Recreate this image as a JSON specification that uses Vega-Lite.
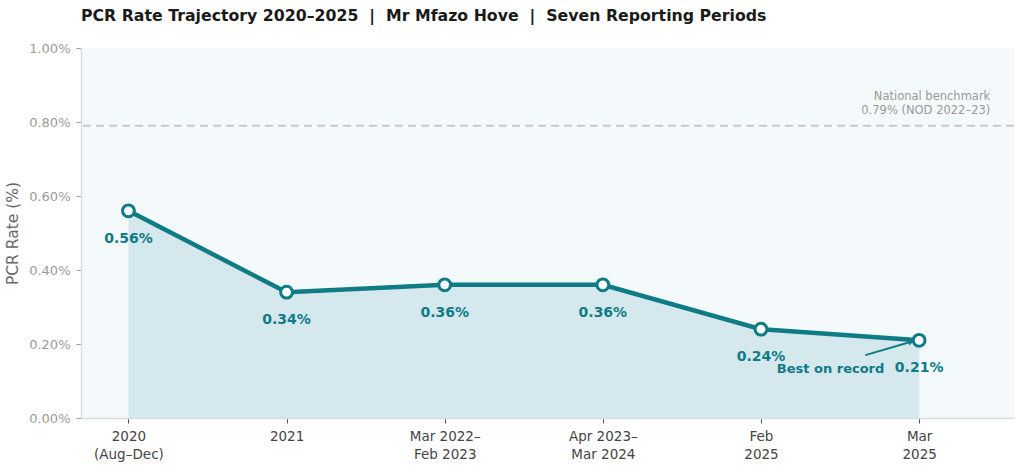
{
  "$schema": "https://vega.github.io/schema/vega-lite/v6.json",
  "autosize": "none",
  "width": 933,
  "height": 370,
  "padding": {"left": 81, "top": 48, "right": 10, "bottom": 56},
  "background": "white",
  "title": {
    "text": "PCR Rate Trajectory 2020–2025 \u00a0|\u00a0 Mr Mfazo Hove \u00a0|\u00a0 Seven Reporting Periods",
    "anchor": "start",
    "frame": "group",
    "offset": 17,
    "font": "DejaVu Sans",
    "fontSize": 15.75,
    "fontWeight": "bold",
    "color": "#1a1a1a"
  },
  "datasets": {
    "rates": [
      {"idx": 0, "period": "2020 (Aug–Dec)", "rate": 0.0056},
      {"idx": 1, "period": "2021", "rate": 0.0034},
      {"idx": 2, "period": "Mar 2022–Feb 2023", "rate": 0.0036},
      {"idx": 3, "period": "Apr 2023–Mar 2024", "rate": 0.0036},
      {"idx": 4, "period": "Feb 2025", "rate": 0.0024},
      {"idx": 5, "period": "Mar 2025", "rate": 0.0021}
    ],
    "benchmark": [
      {"rate": 0.0079, "idx": 5.45, "labelY": 0.00855, "note": ["National benchmark", "0.79% (NOD 2022–23)"]}
    ],
    "callout": [
      {"idx": 4.44, "rate": 0.00132, "idxFrom": 4.66, "rateFrom": 0.0017, "idxTo": 4.95, "rateTo": 0.00206, "note": "Best on record"}
    ]
  },
  "encoding": {
    "x": {
      "field": "idx",
      "type": "quantitative",
      "scale": {"domain": [-0.3, 5.6], "nice": false, "zero": false},
      "axis": {
        "title": null,
        "values": [0, 1, 2, 3, 4, 5],
        "grid": false,
        "labelExpr": "[['2020','(Aug–Dec)'],['2021'],['Mar 2022–','Feb 2023'],['Apr 2023–','Mar 2024'],['Feb','2025'],['Mar','2025']][datum.value]",
        "labelFont": "DejaVu Sans",
        "labelFontSize": 13.5,
        "labelColor": "#444444",
        "labelPadding": 6,
        "labelLineHeight": 18.5,
        "domainColor": "#d9dde0",
        "domainWidth": 1.5,
        "tickColor": "#555555",
        "tickSize": 5
      }
    }
  },
  "layer": [
    {
      "data": {"name": "benchmark"},
      "mark": {"type": "rule", "color": "#c9c9c9", "strokeWidth": 2, "strokeDash": [8, 5]},
      "encoding": {
        "x": null,
        "y": {"field": "rate", "type": "quantitative"}
      }
    },
    {
      "data": {"name": "benchmark"},
      "mark": {"type": "text", "align": "right", "baseline": "bottom", "font": "DejaVu Sans", "fontSize": 11.5, "color": "#9a9a9a", "lineHeight": 14},
      "encoding": {
        "y": {"field": "labelY", "type": "quantitative"},
        "text": {"field": "note"}
      }
    },
    {
      "data": {"name": "rates"},
      "mark": {"type": "area", "color": "#d5e8ed", "opacity": 1},
      "encoding": {
        "y": {
          "field": "rate",
          "type": "quantitative",
          "scale": {"domain": [0, 0.01], "nice": false},
          "axis": {
            "title": "PCR Rate (%)",
            "titleFont": "DejaVu Sans",
            "titleFontSize": 15.5,
            "titleFontWeight": "normal",
            "titleColor": "#666666",
            "titlePadding": 8,
            "values": [0, 0.002, 0.004, 0.006, 0.008, 0.01],
            "format": ".2%",
            "grid": false,
            "labelFont": "DejaVu Sans",
            "labelFontSize": 13,
            "labelColor": "#9a9a9a",
            "labelPadding": 6,
            "domainColor": "#d9dde0",
            "domainWidth": 1.5,
            "tickColor": "#9a9a9a",
            "tickSize": 5
          }
        }
      }
    },
    {
      "data": {"name": "rates"},
      "mark": {"type": "line", "color": "#0e7b85", "strokeWidth": 4.5},
      "encoding": {"y": {"field": "rate", "type": "quantitative"}}
    },
    {
      "data": {"name": "rates"},
      "mark": {"type": "point", "filled": true, "fill": "white", "stroke": "#0e7b85", "strokeWidth": 3, "size": 140, "opacity": 1},
      "encoding": {"y": {"field": "rate", "type": "quantitative"}}
    },
    {
      "data": {"name": "rates"},
      "mark": {"type": "text", "dy": 28, "font": "DejaVu Sans", "fontSize": 14, "fontWeight": "bold", "color": "#0e7b85"},
      "encoding": {
        "y": {"field": "rate", "type": "quantitative"},
        "text": {"field": "rate", "type": "quantitative", "format": ".2%"}
      }
    },
    {
      "data": {"name": "callout"},
      "mark": {"type": "rule", "color": "#0e7b85", "strokeWidth": 2},
      "encoding": {
        "x": {"field": "idxFrom", "type": "quantitative"},
        "x2": {"field": "idxTo"},
        "y": {"field": "rateFrom", "type": "quantitative"},
        "y2": {"field": "rateTo"}
      }
    },
    {
      "data": {"name": "callout"},
      "mark": {"type": "point", "shape": "triangle-right", "filled": true, "color": "#0e7b85", "size": 40, "angle": 344, "opacity": 1},
      "encoding": {
        "x": {"field": "idxTo", "type": "quantitative"},
        "y": {"field": "rateTo", "type": "quantitative"}
      }
    },
    {
      "data": {"name": "callout"},
      "mark": {"type": "text", "font": "DejaVu Sans", "fontSize": 13, "fontWeight": "bold", "color": "#0e7b85"},
      "encoding": {
        "y": {"field": "rate", "type": "quantitative"},
        "text": {"field": "note"}
      }
    }
  ],
  "config": {
    "view": {"fill": "#f4f9fc", "stroke": null}
  }
}
